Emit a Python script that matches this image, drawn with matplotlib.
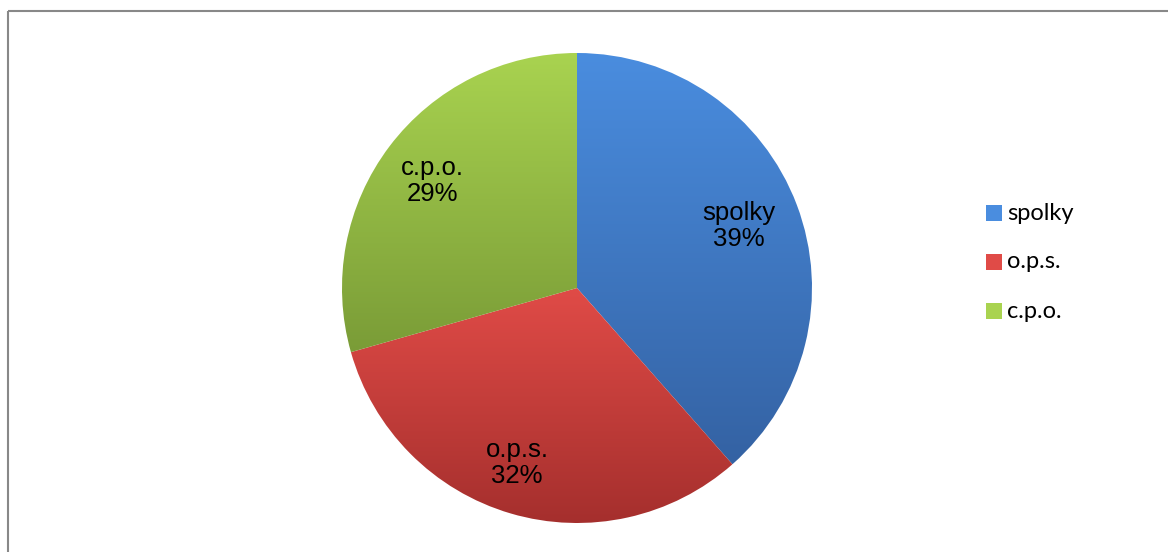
import numpy as np
import matplotlib
matplotlib.use("Agg")
import matplotlib.pyplot as plt
from matplotlib.colors import LinearSegmentedColormap
from matplotlib.patches import Rectangle

# data
labels = ["spolky", "o.p.s.", "c.p.o."]
shares = [38.5, 32.1, 29.4]
pct_text = ["39%", "32%", "29%"]
top_colors = ["#4a8ddf", "#e04b47", "#a9d350"]
bottom_colors = ["#3462a3", "#a52f2d", "#7a9c37"]

W, H = 1168, 552
fig = plt.figure(figsize=(W / 100, H / 100), dpi=100)
ax = fig.add_axes([0, 0, 1, 1])

cx, cy, r = 577, H - 288, 235
wedges, _ = ax.pie(shares, center=(cx, cy), radius=r, startangle=90,
                   counterclock=False, wedgeprops=dict(linewidth=0))

# gradient fill per slice (top light -> bottom dark)
for w, c1, c2 in zip(wedges, top_colors, bottom_colors):
    w.set_facecolor("none")
    bb = w.get_path().get_extents(w.get_transform() - ax.transData)
    cmap = LinearSegmentedColormap.from_list("g", [c2, c1])
    grad = np.linspace(0, 1, 256).reshape(-1, 1)
    im = ax.imshow(grad, cmap=cmap, origin="lower", aspect="auto",
                   extent=[bb.x0, bb.x1, bb.y0, bb.y1], zorder=1)
    im.set_clip_path(w)

# slice labels
label_pos = [(739, H - 226), (517, H - 463), (432, H - 181)]
for (x, y), lab, pct in zip(label_pos, labels, pct_text):
    ax.text(x, y, lab + "\n" + pct, ha="center", va="center", fontsize=18.5,
            family="Liberation Sans", linespacing=1.1)

# legend
for i, (lab, c1, c2) in enumerate(zip(labels, top_colors, bottom_colors)):
    y = H - 213 - i * 49
    sq = Rectangle((986, y - 8), 16, 16, facecolor=c1, edgecolor="none")
    ax.add_patch(sq)
    ax.text(1007, y, lab, ha="left", va="center", fontsize=17, family="Lato")

ax.set_xlim(0, W)
ax.set_ylim(0, H)
ax.axis("off")

# chart border (top + left visible)
ax.plot([7.5, W], [H - 10.5, H - 10.5], color="#888888", lw=1.5,
        solid_capstyle="butt")
ax.plot([7.5, 7.5], [0, H - 10.5], color="#888888", lw=1.5,
        solid_capstyle="butt")

fig.savefig("out.png", dpi=100)
